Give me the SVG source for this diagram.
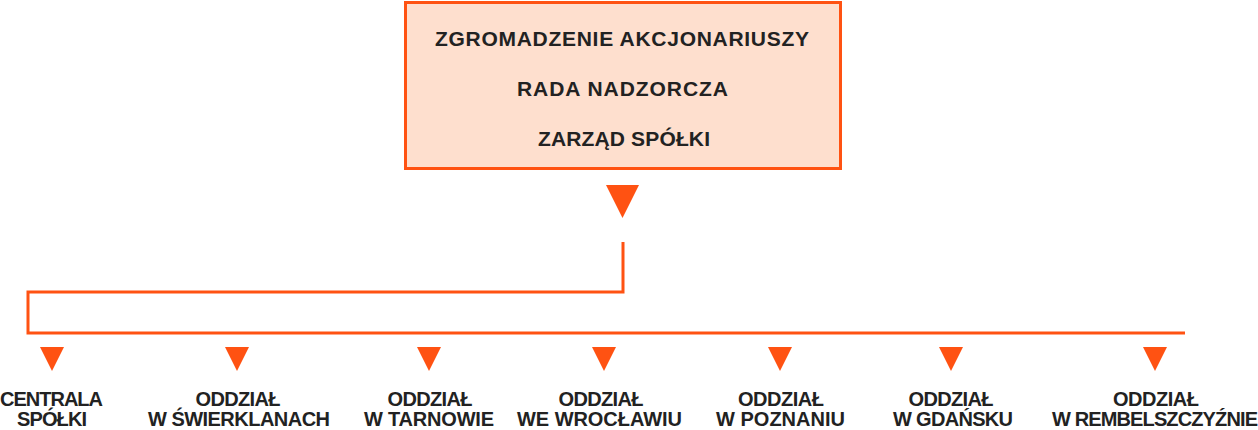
<svg xmlns="http://www.w3.org/2000/svg" width="1258" height="430" viewBox="0 0 1258 430">
<style>
.t{font-family:"Liberation Sans",Arial,sans-serif;font-weight:bold;font-size:21px;fill:#222222;text-anchor:middle}
.b{font-size:20px}
.ln{fill:none;stroke:#ff5212;stroke-width:3}
.tri{fill:#ff5212}
</style>
<defs>
<polygon id="st" class="tri" points="-12,0 12,0 0,24"/>
</defs>
<g id="board">
<rect x="405.5" y="2.5" width="435" height="166" fill="#fedfce" stroke="#ff5212" stroke-width="3"/>
<text class="t" x="622" y="46" textLength="374" lengthAdjust="spacing">ZGROMADZENIE AKCJONARIUSZY</text>
<text class="t" x="622.5" y="96" textLength="211" lengthAdjust="spacing">RADA NADZORCZA</text>
<text class="t" x="624" y="146" textLength="172" lengthAdjust="spacing">ZARZĄD SPÓŁKI</text>
</g>
<g id="connectors">
<polygon class="tri" points="606,185 639,185 622.5,218"/>
<polyline class="ln" points="623,242 623,292 28,292 28,333 1185,333"/>
<use href="#st" x="52" y="347"/>
<use href="#st" x="237" y="347"/>
<use href="#st" x="429" y="347"/>
<use href="#st" x="604" y="347"/>
<use href="#st" x="780" y="347"/>
<use href="#st" x="951" y="347"/>
<use href="#st" x="1155" y="347"/>
</g>
<g id="n1"><text class="t b" x="51.5" y="406" textLength="103" lengthAdjust="spacing">CENTRALA</text><text class="t b" x="52" y="426" textLength="70" lengthAdjust="spacing">SPÓŁKI</text></g>
<g id="n2"><text class="t b" x="238" y="406" textLength="85" lengthAdjust="spacing">ODDZIAŁ</text><text class="t b" x="239" y="426" textLength="182" lengthAdjust="spacing">W ŚWIERKLANACH</text></g>
<g id="n3"><text class="t b" x="430" y="406" textLength="85" lengthAdjust="spacing">ODDZIAŁ</text><text class="t b" x="429" y="426" textLength="130" lengthAdjust="spacing">W TARNOWIE</text></g>
<g id="n4"><text class="t b" x="601" y="406" textLength="85" lengthAdjust="spacing">ODDZIAŁ</text><text class="t b" x="599.5" y="426" textLength="165" lengthAdjust="spacing">WE WROCŁAWIU</text></g>
<g id="n5"><text class="t b" x="781" y="406" textLength="86" lengthAdjust="spacing">ODDZIAŁ</text><text class="t b" x="780.5" y="426" textLength="129" lengthAdjust="spacing">W POZNANIU</text></g>
<g id="n6"><text class="t b" x="951" y="406" textLength="85" lengthAdjust="spacing">ODDZIAŁ</text><text class="t b" x="953" y="426" textLength="120" lengthAdjust="spacing">W GDAŃSKU</text></g>
<g id="n7"><text class="t b" x="1156" y="406" textLength="86" lengthAdjust="spacing">ODDZIAŁ</text><text class="t b" x="1155" y="426" textLength="206" lengthAdjust="spacing">W REMBELSZCZYŹNIE</text></g>
</svg>
